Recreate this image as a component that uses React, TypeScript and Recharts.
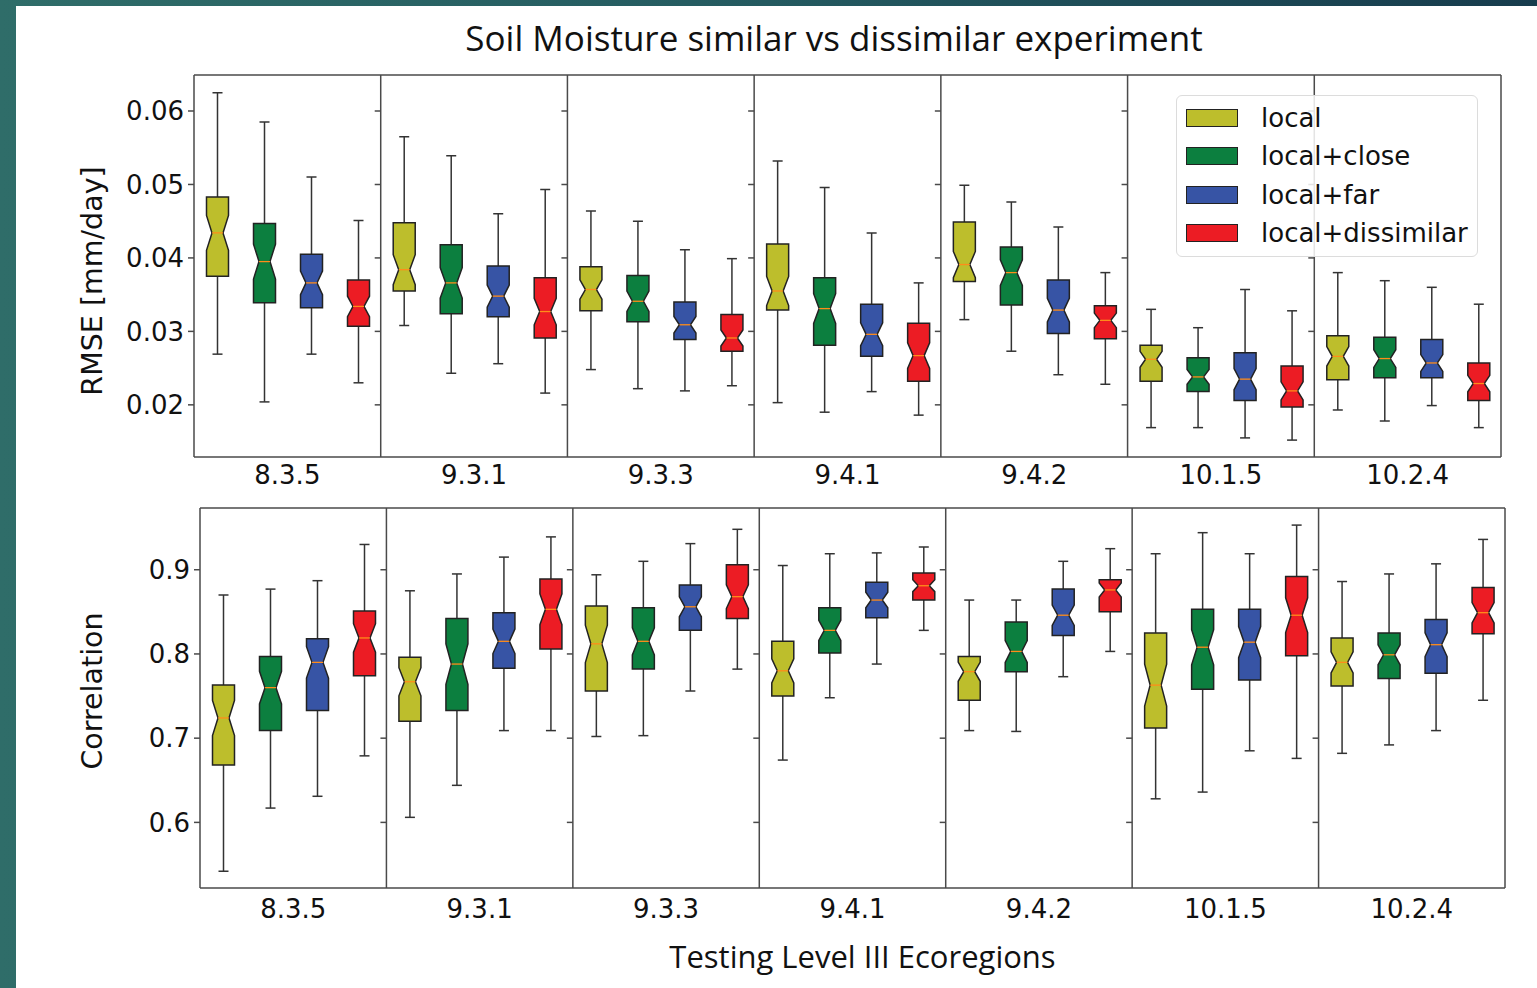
import React from 'react';
import { ComposedChart, Bar, XAxis, YAxis, CartesianGrid, Legend } from 'recharts';

const REGIONS = ['8.3.5', '9.3.1', '9.3.3', '9.4.1', '9.4.2', '10.1.5', '10.2.4'];
const SERIES = ['local', 'local+close', 'local+far', 'local+dissimilar'];
const COLORS = ['#bdbe2c', '#0c7f3f', '#3754a5', '#ec1c24'];

// each entry: [whisker low, q1, median, q3, whisker high], one per region
const RMSE_LOCAL = [
  [0.0269, 0.0375, 0.0434, 0.0483, 0.0625],
  [0.0308, 0.0355, 0.0384, 0.0448, 0.0565],
  [0.0248, 0.0328, 0.0357, 0.0388, 0.0464],
  [0.0203, 0.0329, 0.0355, 0.0419, 0.0532],
  [0.0316, 0.0368, 0.0391, 0.0449, 0.0499],
  [0.0169, 0.0232, 0.0262, 0.0281, 0.033],
  [0.0193, 0.0234, 0.0266, 0.0294, 0.038],
];
const RMSE_CLOSE = [
  [0.0204, 0.0339, 0.0395, 0.0447, 0.0585],
  [0.0243, 0.0324, 0.0366, 0.0418, 0.0539],
  [0.0222, 0.0313, 0.0341, 0.0376, 0.045],
  [0.019, 0.0281, 0.0331, 0.0373, 0.0496],
  [0.0273, 0.0336, 0.038, 0.0415, 0.0476],
  [0.0169, 0.0218, 0.0238, 0.0264, 0.0305],
  [0.0178, 0.0237, 0.0263, 0.0292, 0.0369],
];
const RMSE_FAR = [
  [0.0269, 0.0332, 0.0366, 0.0405, 0.051],
  [0.0256, 0.032, 0.0348, 0.0389, 0.046],
  [0.0219, 0.0289, 0.0309, 0.034, 0.0411],
  [0.0218, 0.0266, 0.0296, 0.0337, 0.0434],
  [0.0241, 0.0297, 0.0329, 0.037, 0.0442],
  [0.0155, 0.0206, 0.0235, 0.0271, 0.0357],
  [0.0199, 0.0237, 0.0257, 0.0289, 0.036],
];
const RMSE_DISSIMILAR = [
  [0.023, 0.0307, 0.0334, 0.037, 0.0451],
  [0.0216, 0.0291, 0.0327, 0.0373, 0.0493],
  [0.0226, 0.0273, 0.0291, 0.0323, 0.0399],
  [0.0186, 0.0232, 0.0267, 0.0311, 0.0366],
  [0.0228, 0.029, 0.0315, 0.0335, 0.038],
  [0.0152, 0.0197, 0.0219, 0.0253, 0.0328],
  [0.0169, 0.0206, 0.0229, 0.0257, 0.0337],
];

const CORR_LOCAL = [
  [0.542, 0.668, 0.724, 0.763, 0.87],
  [0.606, 0.72, 0.767, 0.796, 0.875],
  [0.702, 0.756, 0.812, 0.857, 0.894],
  [0.674, 0.75, 0.78, 0.815, 0.905],
  [0.709, 0.745, 0.779, 0.797, 0.864],
  [0.628, 0.712, 0.763, 0.825, 0.919],
  [0.682, 0.762, 0.79, 0.819, 0.886],
];
const CORR_CLOSE = [
  [0.617, 0.709, 0.76, 0.797, 0.877],
  [0.644, 0.733, 0.788, 0.842, 0.895],
  [0.703, 0.782, 0.815, 0.855, 0.91],
  [0.748, 0.801, 0.828, 0.855, 0.919],
  [0.708, 0.779, 0.803, 0.838, 0.864],
  [0.636, 0.758, 0.808, 0.853, 0.944],
  [0.692, 0.771, 0.799, 0.825, 0.895],
];
const CORR_FAR = [
  [0.631, 0.733, 0.79, 0.818, 0.887],
  [0.709, 0.783, 0.815, 0.849, 0.915],
  [0.756, 0.828, 0.856, 0.882, 0.931],
  [0.788, 0.843, 0.864, 0.885, 0.92],
  [0.773, 0.822, 0.846, 0.877, 0.91],
  [0.685, 0.769, 0.814, 0.853, 0.919],
  [0.709, 0.777, 0.811, 0.841, 0.907],
];
const CORR_DISSIMILAR = [
  [0.679, 0.774, 0.819, 0.851, 0.93],
  [0.709, 0.806, 0.853, 0.889, 0.939],
  [0.782, 0.842, 0.868, 0.906, 0.948],
  [0.828, 0.864, 0.881, 0.896, 0.927],
  [0.803, 0.85, 0.876, 0.888, 0.925],
  [0.676, 0.798, 0.846, 0.892, 0.953],
  [0.745, 0.824, 0.849, 0.879, 0.936],
];

const RMSE_TICKS = [0.02, 0.03, 0.04, 0.05, 0.06];
const CORR_TICKS = [0.6, 0.7, 0.8, 0.9];

const FONT = '"DejaVu Sans", sans-serif';
const TITLE_FONT = '"Open Sans", "Noto Sans", sans-serif';
const FRAME = '#4a4a4a';

const buildRows = (groups: number[][][]) =>
  REGIONS.map((region, i) => ({ region, stats: groups.map((g) => g[i]) }));

const rmseRows = buildRows([RMSE_LOCAL, RMSE_CLOSE, RMSE_FAR, RMSE_DISSIMILAR]);
const corrRows = buildRows([CORR_LOCAL, CORR_CLOSE, CORR_FAR, CORR_DISSIMILAR]);

const BoxShape = (props: any) => {
  const { x, y, width, height, payload, k, index, ticks } = props;
  const st = payload.stats[k];
  const [lo, q1, med, q3, hi] = st;
  const top = Math.min(y, y + height);
  const h = Math.abs(height);
  const py = (v: number) => top + ((hi - v) / (hi - lo)) * h;
  const cx = x + width / 2;
  const half = 11;
  const cap = 5;
  const notch = 0.22 * (q3 - q1);
  const yQ1 = py(q1);
  const yQ3 = py(q3);
  const yM = py(med);
  const yNL = py(med - notch);
  const yNH = py(med + notch);
  const pts = [
    [cx - half, yQ1],
    [cx - half, yNL],
    [cx - half / 2, yM],
    [cx - half, yNH],
    [cx - half, yQ3],
    [cx + half, yQ3],
    [cx + half, yNH],
    [cx + half / 2, yM],
    [cx + half, yNL],
    [cx + half, yQ1],
  ]
    .map((p) => p.join(','))
    .join(' ');
  return (
    <g>
      {k === 0 && index > 0 &&
        ticks.map((t: number) => (
          <line key={t} x1={x - 6} x2={x} y1={py(t)} y2={py(t)} stroke={FRAME} strokeWidth={1.5} />
        ))}
      <line x1={cx} x2={cx} y1={py(hi)} y2={yQ3} stroke="#333" strokeWidth={1.5} />
      <line x1={cx} x2={cx} y1={py(lo)} y2={yQ1} stroke="#333" strokeWidth={1.5} />
      <line x1={cx - cap} x2={cx + cap} y1={py(hi)} y2={py(hi)} stroke="#333" strokeWidth={1.5} />
      <line x1={cx - cap} x2={cx + cap} y1={py(lo)} y2={py(lo)} stroke="#333" strokeWidth={1.5} />
      <polygon points={pts} fill={COLORS[k]} stroke="#222" strokeWidth={1.5} />
      <line x1={cx - half / 2} x2={cx + half / 2} y1={yM} y2={yM} stroke="#ff8c1a" strokeWidth={1.3} />
    </g>
  );
};

const LegendBox = () => (
  <div
    style={{
      boxSizing: 'border-box',
      width: 302,
      height: 162,
      paddingTop: 3,
      background: 'rgba(255,255,255,0.85)',
      border: '1.5px solid #dcdcdc',
      borderRadius: 6,
      fontFamily: FONT,
      fontSize: 26,
      color: '#111',
    }}
  >
    {SERIES.map((s, i) => (
      <div key={s} style={{ display: 'flex', alignItems: 'center', height: 38.3 }}>
        <div
          style={{
            boxSizing: 'border-box',
            width: 52,
            height: 18,
            marginLeft: 9,
            marginRight: 23,
            background: COLORS[i],
            border: '1.5px solid #222',
          }}
        />
        <span>{s}</span>
      </div>
    ))}
  </div>
);

const boundaries = ({ offset }: any) =>
  REGIONS.map((_, i) => offset.left + (i * offset.width) / REGIONS.length).concat(offset.left + offset.width);
const edges = ({ offset }: any) => [offset.top, offset.top + offset.height];

const tickStyle = { fontFamily: FONT, fontSize: 26, fill: '#111' };

interface PanelProps {
  rows: any[];
  domain: [number, number];
  ticks: number[];
  digits: number;
  yLabel: string;
  yLabelShift: number;
  xLabel?: string;
  xTickMargin: number;
  width: number;
  height: number;
  margin: { top: number; right: number; bottom: number; left: number };
  yWidth: number;
  legend?: boolean;
}

const Panel = ({
  rows,
  domain,
  ticks,
  digits,
  yLabel,
  yLabelShift,
  xLabel,
  xTickMargin,
  width,
  height,
  margin,
  yWidth,
  legend,
}: PanelProps) => (
  <ComposedChart width={width} height={height} data={rows} margin={margin} barCategoryGap={0} barGap={0}>
    <CartesianGrid
      stroke={FRAME}
      strokeWidth={1.5}
      verticalCoordinatesGenerator={boundaries}
      horizontalCoordinatesGenerator={edges}
    />
    <XAxis
      dataKey="region"
      axisLine={false}
      tickLine={false}
      tick={tickStyle}
      tickMargin={xTickMargin}
      height={40}
      interval={0}
      label={
        xLabel
          ? { value: xLabel, position: 'bottom', offset: 18, dx: 10, style: { fontFamily: TITLE_FONT, fontSize: 31, fill: '#111' } }
          : undefined
      }
    />
    <YAxis
      type="number"
      domain={domain}
      ticks={ticks}
      allowDataOverflow
      width={yWidth}
      axisLine={false}
      tickLine={{ stroke: FRAME, strokeWidth: 1.5 }}
      tickSize={6}
      tickMargin={4}
      tick={tickStyle}
      tickFormatter={(v: number) => v.toFixed(digits)}
      label={{
        value: yLabel,
        angle: -90,
        position: 'insideLeft',
        offset: 92,
        dy: yLabelShift,
        style: { fontFamily: FONT, fontSize: 28.5, fill: '#111', textAnchor: 'middle' },
      }}
    />
    {SERIES.map((s, k) => (
      <Bar
        key={s}
        name={s}
        dataKey={(row: any) => [row.stats[k][0], row.stats[k][4]]}
        fill={COLORS[k]}
        isAnimationActive={false}
        shape={(p: any) => <BoxShape {...p} k={k} ticks={ticks} />}
      />
    ))}
    {legend && (
      <Legend
        layout="horizontal"
        verticalAlign="middle"
        align="center"
        wrapperStyle={{ left: 1176, top: 95, width: 302, height: 162 }}
        content={() => <LegendBox />}
      />
    )}
  </ComposedChart>
);

export default function App() {
  return (
    <div
      style={{
        position: 'absolute',
        left: 0,
        top: 0,
        width: 1537,
        height: 988,
        overflow: 'hidden',
        background: 'linear-gradient(90deg, #2f6d69 0%, #245a60 50%, #173c4d 100%)',
      }}
    >
      <div style={{ position: 'absolute', left: 16, top: 6, right: 0, bottom: 0, background: '#fff' }} />
      <div
        style={{
          position: 'absolute',
          left: 0,
          width: 1668,
          top: 16,
          textAlign: 'center',
          fontFamily: TITLE_FONT,
          fontSize: 35,
          color: '#111',
          lineHeight: '44px',
        }}
      >
        Soil Moisture similar vs dissimilar experiment
      </div>
      <div style={{ position: 'absolute', left: 0, top: 0 }}>
        <Panel
          rows={rmseRows}
          domain={[0.0129, 0.0649]}
          ticks={RMSE_TICKS}
          digits={2}
          yLabel="RMSE [mm/day]"
          yLabelShift={15}
          xTickMargin={3}
          width={1537}
          height={500}
          margin={{ top: 75, right: 36, bottom: 3, left: 0 }}
          yWidth={194}
          legend
        />
      </div>
      <div style={{ position: 'absolute', left: 0, top: 480 }}>
        <Panel
          rows={corrRows}
          domain={[0.5221, 0.9733]}
          ticks={CORR_TICKS}
          digits={1}
          yLabel="Correlation"
          yLabelShift={-7}
          xLabel="Testing Level III Ecoregions"
          xTickMargin={6}
          width={1537}
          height={508}
          margin={{ top: 28, right: 32, bottom: 60, left: 0 }}
          yWidth={200}
        />
      </div>
    </div>
  );
}
